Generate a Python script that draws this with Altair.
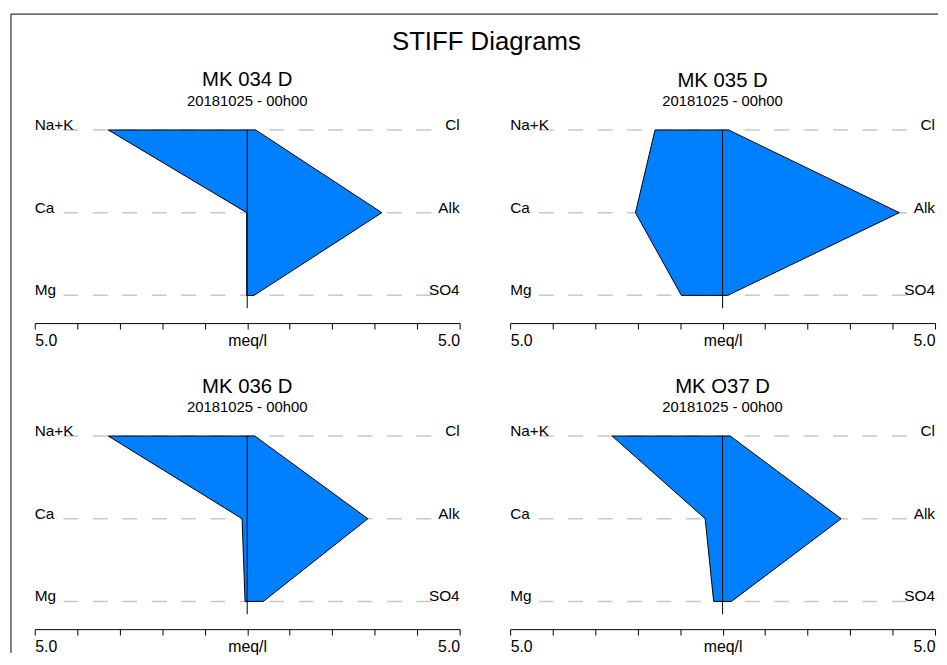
import altair as alt
import pandas as pd

# ---------------- data ----------------
main_title = "STIFF Diagrams"
sites = ["MK 034 D", "MK 035 D", "MK 036 D", "MK O37 D"]
dates = ["20181025 - 00h00", "20181025 - 00h00", "20181025 - 00h00", "20181025 - 00h00"]
cations = ["Na+K", "Ca", "Mg"]
anions = ["Cl", "Alk", "SO4"]
axis_labels = ["5.0", "meq/l", "5.0"]
axis_ticks = [-5, -4, -3, -2, -1, 0, 1, 2, 3, 4, 5]

# meq/l per site, order [Na+K, Ca, Mg]
cation_values = [
    [3.27, 0.01, 0.01],
    [1.59, 2.05, 0.97],
    [3.27, 0.12, 0.05],
    [2.60, 0.41, 0.21],
]
# meq/l per site, order [Cl, Alk, SO4]
anion_values = [
    [0.20, 3.17, 0.16],
    [0.14, 4.16, 0.12],
    [0.18, 2.84, 0.38],
    [0.18, 2.79, 0.21],
]

# ---------------- style ----------------
FONT = "Liberation Sans"
W, H = 429, 195
FILL = "#0080ff"

label_expr = (
    f"datum.value == {axis_ticks[0]} ? '{axis_labels[0]}' : "
    f"(datum.value == 0 ? '{axis_labels[1]}' : "
    f"(datum.value == {axis_ticks[-1]} ? '{axis_labels[2]}' : ''))"
)


def panel(i):
    df = pd.DataFrame({
        "row": [0, 1, 2],
        "cation": cations,
        "anion": anions,
        "left": [-v for v in cation_values[i]],
        "right": anion_values[i],
    })
    base = alt.Chart(df)
    y = alt.Y("row:Q", scale=alt.Scale(domain=[0, 2], range=[0, 167], nice=False, zero=False), axis=None)
    xs = alt.Scale(domain=[axis_ticks[0], axis_ticks[-1]], nice=False, zero=False)

    dashes = base.mark_rule(color="#c8c8c8", strokeWidth=1.5, strokeDash=[15, 14.7]).encode(
        x=alt.value(29), x2=alt.value(408), y=y
    )
    area = base.mark_area(orient="horizontal", fill=FILL, stroke="black", strokeWidth=1, opacity=1).encode(
        x=alt.X(
            "left:Q",
            scale=xs,
            title=None,
            axis=alt.Axis(values=axis_ticks, labelExpr=label_expr, labelFlush=True,
                          labelOverlap=False, grid=False),
        ),
        x2="right:Q",
        y=y,
    )
    center = alt.Chart(pd.DataFrame({"v": [0]})).mark_rule(color="black", strokeWidth=1).encode(
        x=alt.X("v:Q", scale=xs), y=alt.value(0), y2=alt.value(180)
    )
    left_lab = base.mark_text(align="left", baseline="alphabetic", fontSize=15.5, font=FONT, color="black").encode(
        x=alt.value(0), y=y, text="cation:N"
    )
    right_lab = base.mark_text(align="right", baseline="alphabetic", fontSize=15.5, font=FONT, color="black").encode(
        x=alt.value(W), y=y, text="anion:N"
    )
    layers = [dashes, area, center, left_lab, right_lab]
    offset = 9
    if i == 0:
        one = alt.Chart(pd.DataFrame({"k": [0]}))
        top = one.mark_rule(color="black", strokeWidth=1).encode(
            x=alt.value(-24), x2=alt.value(912), y=alt.value(-117)
        )
        left = one.mark_rule(color="black", strokeWidth=1).encode(
            x=alt.value(-24), y=alt.value(-117), y2=alt.value(528)
        )
        layers += [top, left]
        offset = -96
    return alt.layer(*layers).properties(
        width=W,
        height=H,
        title=alt.TitleParams(
            text=sites[i], subtitle=dates[i], fontSize=20.5, subtitleFontSize=15,
            font=FONT, subtitleFont=FONT, fontWeight="normal", subtitleFontWeight="normal",
            color="black", subtitleColor="black", subtitlePadding=3,
            anchor="middle", frame="group", offset=offset,
        ),
    )


chart = alt.concat(
    *[panel(i) for i in range(4)],
    columns=2,
    spacing={"row": 114, "column": 51},
    bounds="flush",
).properties(
    title=alt.TitleParams(text=main_title, fontSize=26, font=FONT, fontWeight="normal",
                          color="black", anchor="middle", offset=-42, dx=12),
    padding={"left": 2, "top": 2, "right": 0, "bottom": 0},
).configure_view(stroke=None).configure_axis(
    domainColor="black", domainWidth=1, tickColor="black", tickWidth=1, tickSize=6,
    labelFont=FONT, labelFontSize=16, labelColor="black", labelPadding=4,
)

chart.save("out.html", embed_options={"renderer": "svg", "actions": False})
